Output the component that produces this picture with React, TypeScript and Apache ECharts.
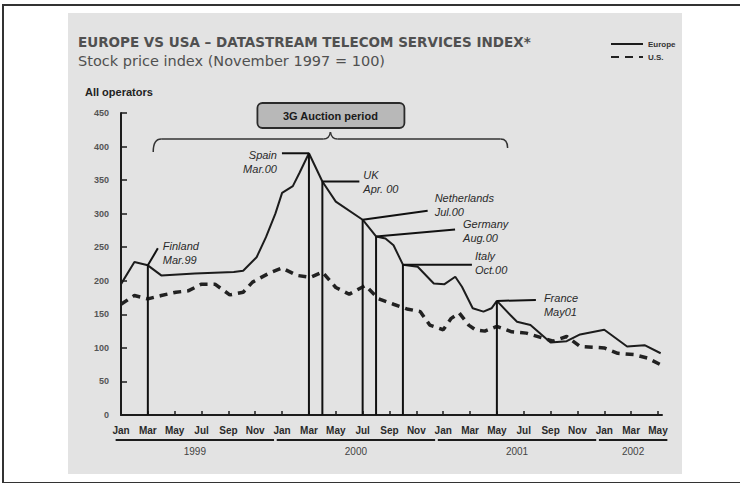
import React, { useEffect, useRef } from 'react';
import * as echarts from 'echarts';

const monthNames = ['Jan', 'Feb', 'Mar', 'Apr', 'May', 'Jun', 'Jul', 'Aug', 'Sep', 'Oct', 'Nov', 'Dec'];
const yearLabels = ['1999', '2000', '2001', '2002'];
const yearSpanStart = [-0.4, 11.6, 23.6, 35.6];
const yearSpanEnd = [11.4, 23.4, 35.4, 40.7];

// months counted from Jan 1999
const europeMonths = [0, 1, 2, 3, 5.5, 8.4, 9.1, 10.1, 10.8, 11.5, 12, 12.8, 13.3, 14, 15, 16, 18, 19, 19.7, 20.3, 21, 22.1, 23.3, 24.1, 24.9, 25.4, 26.2, 27, 27.6, 28, 29, 29.5, 30.5, 32, 33.2, 34.2, 36, 37.7, 39, 40.2];
const europeValues = [195, 228, 223, 208, 211, 213, 215, 235, 265, 300, 331, 341, 361, 390, 348, 318, 291, 266, 263, 253, 224, 221, 196, 195, 206, 191, 159, 154, 159, 170, 149, 139, 134, 108, 110, 120, 127, 102, 104, 92];

const usMonths = [0, 1, 2, 3, 4.1, 5, 6, 7, 8.1, 9.1, 9.8, 11, 12, 13.1, 14.1, 15, 16, 17, 18.2, 19.2, 20.3, 21.3, 22.3, 23, 24, 24.6, 25.2, 25.9, 26.4, 27.1, 28, 29.1, 30.2, 32.2, 33.2, 34.2, 36, 37, 38.2, 39.2, 40.2];
const usValues = [165, 178, 173, 178, 183, 185, 195, 195, 179, 183, 198, 211, 219, 208, 205, 213, 190, 180, 193, 173, 165, 158, 154, 134, 127, 144, 152, 134, 127, 125, 132, 124, 122, 110, 117, 102, 100, 92, 90, 85, 75];

const annNames = ['Finland', 'Spain', 'UK', 'Netherlands', 'Germany', 'Italy', 'France'];
const annDates = ['Mar.99', 'Mar.00', 'Apr. 00', 'Jul.00', 'Aug.00', 'Oct.00', 'May01'];
const annMonths = [2, 14, 15, 18, 19, 21, 28];

const auctionLabel = '3G Auction period';
const auctionFrom = 2.4;
const auctionTo = 28.8;

// layout of the annotation leaders (pixel offsets from the top of each vertical line)
const annLeader = [[10, -17], [-27, 0], [37, 0], [65, -9], [79, -7], [69, 0], [39, -1]];
const annLabelDx = [15, -32, 41, 72, 87, 72, 47];
const annLabelDy = [-19, 2, -6, -22, -12, -9, -3];

function europeAt(m: number): number {
  for (let i = 0; i < europeMonths.length - 1; i++) {
    const a = europeMonths[i], b = europeMonths[i + 1];
    if (m >= a && m <= b) {
      const t = (m - a) / (b - a);
      return europeValues[i] + t * (europeValues[i + 1] - europeValues[i]);
    }
  }
  return europeValues[europeValues.length - 1];
}

const FONT = '"Liberation Sans", Arial, Helvetica, sans-serif';
const WIDE = '"DejaVu Sans", "Liberation Sans", sans-serif';
const INK = '#1c1c1c';

export default function App() {
  const ref = useRef<HTMLDivElement>(null);

  useEffect(() => {
    if (!ref.current) return;
    const chart = echarts.init(ref.current, undefined, { renderer: 'svg' });

    const option: any = {
      animation: false,
      backgroundColor: 'transparent',
      textStyle: { fontFamily: FONT },
      title: {
        text: 'EUROPE VS USA \u2013 DATASTREAM TELECOM SERVICES INDEX*',
        subtext: 'Stock price index (November 1997 = 100)',
        left: 78,
        top: 35,
        padding: 0,
        itemGap: 4,
        textStyle: { fontSize: 13.5, fontWeight: 'bold', color: '#505050', fontFamily: WIDE },
        subtextStyle: { fontSize: 14.5, color: '#505050', fontFamily: WIDE },
      },
      legend: {
        data: ['Europe', 'U.S.'],
        orient: 'vertical',
        left: 605,
        top: 35,
        itemWidth: 32,
        itemHeight: 8,
        itemGap: 5,
        itemStyle: { opacity: 0 },
        textStyle: { fontSize: 8, fontWeight: 'bold', color: '#333', fontFamily: FONT },
      },
      grid: { left: 121, right: 78, top: 113, bottom: 68, containLabel: false },
      xAxis: {
        type: 'value',
        min: 0,
        max: 40.3,
        interval: 2,
        splitLine: { show: false },
        axisLine: { show: true, onZero: false, lineStyle: { color: INK, width: 2 } },
        axisTick: { show: true, inside: true, length: 4, lineStyle: { color: INK, width: 1.5 } },
        axisLabel: {
          margin: 10,
          fontSize: 10,
          fontWeight: 'bold',
          color: '#2a2a2a',
          fontFamily: FONT,
          showMaxLabel: false,
          formatter: (v: number) => (Number.isInteger(v) ? monthNames[v % 12] : ''),
        },
      },
      yAxis: {
        type: 'value',
        min: 0,
        max: 450,
        interval: 50,
        splitLine: { show: false },
        axisLine: { show: true, lineStyle: { color: INK, width: 2 } },
        axisTick: { show: true, inside: true, length: 6, lineStyle: { color: INK, width: 1.5 } },
        axisLabel: { margin: 12, fontSize: 9, fontWeight: 'bold', color: '#555', fontFamily: FONT },
      },
      series: [
        {
          name: 'Europe',
          type: 'line',
          symbol: 'none',
          data: europeMonths.map((m, i) => [m, europeValues[i]]),
          lineStyle: { color: INK, width: 2 },
          itemStyle: { color: INK },
          z: 3,
        },
        {
          name: 'U.S.',
          type: 'line',
          symbol: 'none',
          data: usMonths.map((m, i) => [m, usValues[i]]),
          lineStyle: { color: '#222', width: 3.5, type: [8, 6] },
          itemStyle: { color: '#222' },
          z: 2,
        },
      ],
    };
    chart.setOption(option);

    const px = (m: number, v: number) => chart.convertToPixel({ gridIndex: 0 }, [m, v]) as number[];
    const g: any[] = [];

    g.push({
      type: 'text',
      style: { text: 'All operators', x: 85, y: 92, textVerticalAlign: 'middle', fill: '#222', fontSize: 11, fontWeight: 'bold', fontFamily: FONT },
    });

    // year labels and underlines
    const axisY = px(0, 0)[1];
    yearLabels.forEach((yl, i) => {
      const a = px(yearSpanStart[i], 0)[0];
      const b = px(yearSpanEnd[i], 0)[0];
      g.push({ type: 'line', shape: { x1: a, y1: axisY + 25, x2: b, y2: axisY + 25 }, style: { stroke: INK, lineWidth: 2 } });
      g.push({
        type: 'text',
        style: { text: yl, x: (a + b) / 2, y: axisY + 36, textAlign: 'center', textVerticalAlign: 'middle', fill: '#444', fontSize: 10, fontFamily: FONT },
      });
    });

    // annotation lines
    annMonths.forEach((m, i) => {
      const top = px(m, europeAt(m));
      const bot = px(m, 0);
      g.push({ type: 'line', z: 10, shape: { x1: top[0], y1: bot[1], x2: top[0], y2: top[1] }, style: { stroke: '#111', lineWidth: 2 } });
      g.push({
        type: 'line', z: 10,
        shape: { x1: top[0], y1: top[1], x2: top[0] + annLeader[i][0], y2: top[1] + annLeader[i][1] },
        style: { stroke: '#111', lineWidth: 2 },
      });
      const align = annLabelDx[i] < 0 ? 'right' : 'left';
      [annNames[i], annDates[i]].forEach((t, k) => {
        g.push({
          type: 'text', z: 10,
          style: {
            text: t, x: top[0] + annLabelDx[i], y: top[1] + annLabelDy[i] + k * 14,
            textAlign: align, textVerticalAlign: 'middle', fill: '#2a2a2a',
            fontSize: 11, fontStyle: 'italic', fontFamily: FONT,
          },
        });
      });
    });

    // 3G auction brace and box
    const bl = px(auctionFrom, 0)[0];
    const br = px(auctionTo, 0)[0];
    const bc = (bl + br) / 2;
    const by = 139;
    const braceStyle = { stroke: '#333', lineWidth: 1.5, fill: 'none' };
    g.push({ type: 'bezierCurve', shape: { x1: bl, y1: by + 13, cpx1: bl, cpy1: by, x2: bl + 8, y2: by }, style: braceStyle });
    g.push({ type: 'line', shape: { x1: bl + 8, y1: by, x2: bc - 7, y2: by }, style: braceStyle });
    g.push({ type: 'bezierCurve', shape: { x1: bc - 7, y1: by, cpx1: bc - 1, cpy1: by, x2: bc, y2: by - 7 }, style: braceStyle });
    g.push({ type: 'bezierCurve', shape: { x1: bc, y1: by - 7, cpx1: bc + 1, cpy1: by, x2: bc + 7, y2: by }, style: braceStyle });
    g.push({ type: 'line', shape: { x1: bc + 7, y1: by, x2: br - 7, y2: by }, style: braceStyle });
    g.push({ type: 'bezierCurve', shape: { x1: br - 7, y1: by, cpx1: br, cpy1: by, x2: br, y2: by + 9 }, style: braceStyle });
    g.push({
      type: 'rect',
      shape: { x: bc - 73, y: 103, width: 147, height: 25, r: 5 },
      style: { fill: '#b8b8b8', stroke: '#2a2a2a', lineWidth: 1.8 },
    });
    g.push({
      type: 'text',
      style: { text: auctionLabel, x: bc, y: 115.5, textAlign: 'center', textVerticalAlign: 'middle', fill: '#1a1a1a', fontSize: 11, fontWeight: 'bold', fontFamily: FONT },
    });

    chart.setOption({ graphic: g });

    return () => chart.dispose();
  }, []);

  return (
    <div style={{ position: 'fixed', left: 0, top: 0, width: 740, height: 483, background: '#fff', overflow: 'hidden' }}>
      <div style={{ position: 'absolute', left: 2, top: 4, width: 760, height: 476, borderTop: '2px solid #333', borderLeft: '2px solid #333', borderBottom: '2px solid #333' }} />
      <div style={{ position: 'absolute', left: 68, top: 13, width: 614, height: 461, background: '#e3e3e3' }} />
      <div ref={ref} style={{ position: 'absolute', left: 0, top: 0, width: 740, height: 483 }} />
    </div>
  );
}
